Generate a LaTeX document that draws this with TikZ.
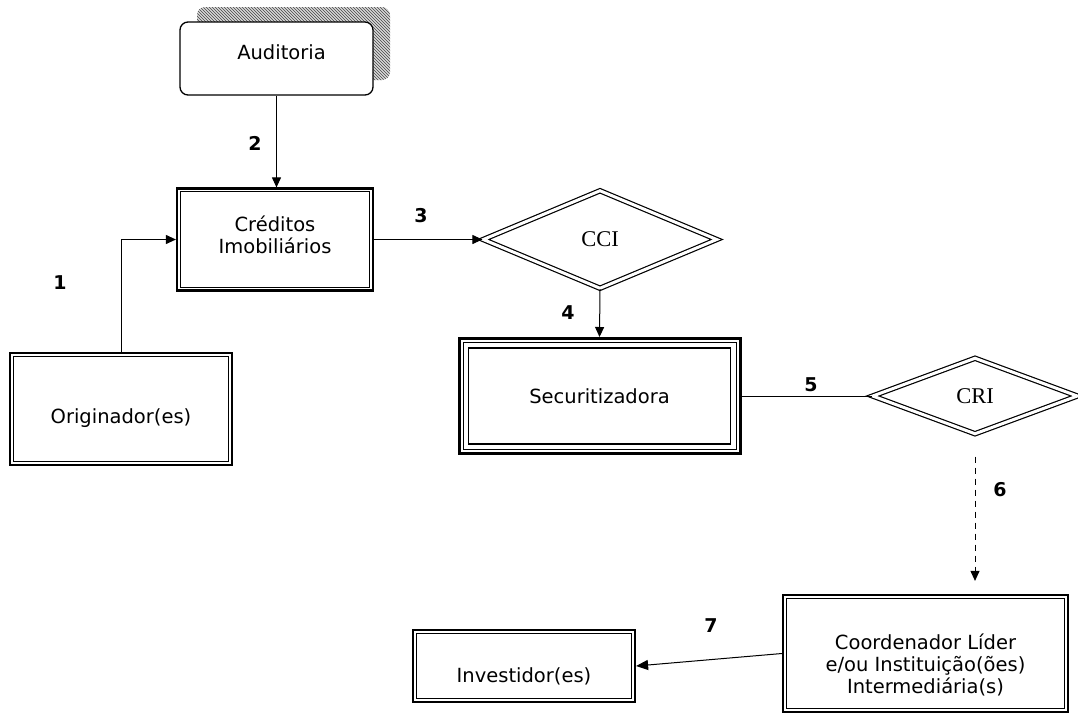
\documentclass[tikz,border=0pt]{standalone}
\usepackage{fontspec}
\setmainfont{DejaVu Sans}
\newfontfamily\serifcr{Liberation Serif}
\usetikzlibrary{arrows.meta,shapes.geometric,patterns}
\begin{document}
\begin{tikzpicture}[x=1pt,y=-1pt,
  txt/.style={font=\fontsize{19.5}{22}\selectfont, align=center},
  num/.style={font=\fontsize{19}{22}\selectfont\bfseries},
  box/.style={draw, line width=2.2pt, inner sep=0pt, fill=white},
  inner/.style={line width=0.9pt},
  dia/.style={shape=diamond, draw, double, double distance=3pt, line width=1.2pt,
              inner sep=0pt, font=\fontsize{22.5}{24}\selectfont\serifcr},
  arr/.style={line width=1pt, -{Triangle[length=10pt,width=9pt]}},
]
\useasboundingbox (0,0) rectangle (1078,713);

% shadow of Auditoria
\fill[gray!30, rounded corners=8pt] (197,7) rectangle (390,80);
\fill[pattern=north west lines, pattern color=gray!55!black, rounded corners=8pt] (197,7) rectangle (390,80);

% nodes
\node[draw, line width=1.3pt, fill=white, rounded corners=8pt, minimum width=193pt, minimum height=73pt,
      label={[name=audT, txt, xshift=5pt, yshift=6pt]center:Auditoria}] (aud) at (276.5,58.5) {};

\node[box, minimum width=196pt, minimum height=102pt,
      label={[name=credT, txt, yshift=5pt]center:Créditos\\Imobiliários}] (cred) at (275,239.5) {};

\node[box, minimum width=222pt, minimum height=112pt,
      label={[name=orgT, txt, yshift=-9pt]center:Originador(es)}] (org) at (121,409) {};

\node[dia, minimum width=234pt, minimum height=98pt] (cci) at (600,239.5) {CCI};

\node[box, line width=3pt, minimum width=281pt, minimum height=115pt,
      label={[name=secuT, txt]center:Securitizadora}] (secu) at (599.5,396) {};

\node[dia, minimum width=205pt, minimum height=76pt] (cri) at (975,396) {CRI};

\node[box, minimum width=285pt, minimum height=117pt,
      label={[name=coordT, txt, yshift=-11.5pt]center:Coordenador Líder\\e/ou Instituição(ões)\\Intermediária(s)}] (coord) at (925.5,653.5) {};

\node[box, minimum width=222pt, minimum height=72pt,
      label={[name=invT, txt, yshift=-10pt]center:Investidor(es)}] (inv) at (524,666) {};

% inner frames
\foreach \n in {cred,org,coord,inv}
  \draw[inner] ([shift={(4.5pt,-4.5pt)}]\n.north west) rectangle ([shift={(-4.5pt,4.5pt)}]\n.south east);
\draw[line width=0.9pt] ([shift={(5.5pt,-5.5pt)}]secu.north west) rectangle ([shift={(-5.5pt,5.5pt)}]secu.south east);
\draw[line width=1.5pt] ([shift={(11pt,-11pt)}]secu.north west) rectangle ([shift={(-11pt,11pt)}]secu.south east);

% connectors
\draw[arr] (org.north) |- (cred.west);
\draw[arr] (aud.south) -- (aud.south |- cred.north);
\draw[arr] (cred.east) -- (cci.west);
\draw[arr] (cci.south) -- (secu.north);
\draw[line width=1pt] (secu.east) -- (cri.west);
\draw[arr, dash pattern=on 6pt off 5pt, shorten <=22pt, shorten >=13pt] (cri.south) -- (cri.south |- coord.north);
\draw[arr, -{Triangle[length=12pt,width=10pt]}] (coord.west) -- (inv.east);

% step numbers
\node[num] (n1) at (60,283) {1};
\node[num] (n2) at (255,143) {2};
\node[num] (n3) at (421,216) {3};
\node[num] (n4) at (568,313) {4};
\node[num] (n5) at (811,385) {5};
\node[num] (n6) at (1000,490) {6};
\node[num] (n7) at (711,626) {7};
\end{tikzpicture}
\end{document}
